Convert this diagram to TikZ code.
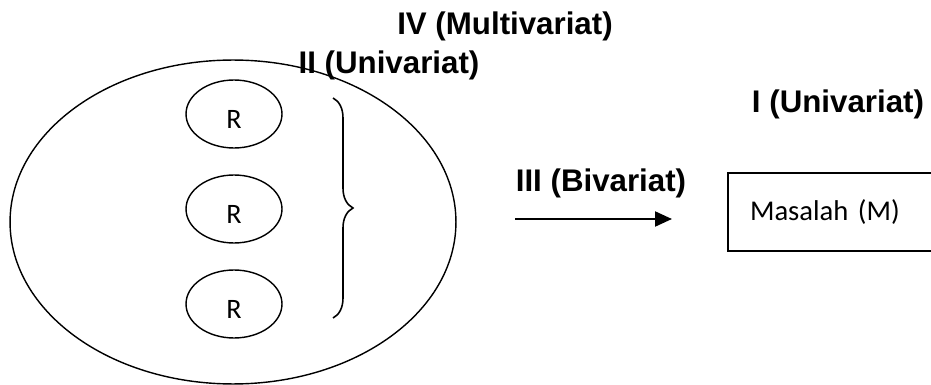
\documentclass[tikz,border=0pt]{standalone}
\usepackage{fontspec}
\setmainfont{Carlito}
\newfontfamily\headfont{Liberation Sans}
\usetikzlibrary{shapes.geometric,arrows.meta,decorations.pathreplacing}

\tikzset{
  ring/.style={draw, ellipse, line width=0.8pt, inner sep=0pt},
  rnode/.style={ring, minimum width=1.92cm, minimum height=1.36cm,
    font=\fontsize{16}{18}\selectfont, text height=0.58cm},
  level/.style={font=\headfont\bfseries\fontsize{17.8}{20}\selectfont,
    anchor=base, inner sep=0pt},
  problembox/.style={draw, line width=0.8pt, minimum width=4.64cm,
    minimum height=1.56cm, text width=3.76cm, align=left, inner xsep=0.44cm,
    font=\fontsize{16.3}{18}\selectfont}
}

\begin{document}
\begin{tikzpicture}[x=0.02cm, y=-0.02cm]
	%%%%% START %%%%%
	\useasboundingbox (0,0) rectangle (931,385);
	
	% group of R with the brace
	\node[ring, minimum width=8.92cm, minimum height=6.48cm] (group) at (233,222) {};
	\foreach \k/\yy in {1/114, 2/209, 3/304}
		\node[rnode] (r\k) at (234,\yy) {R};
	
	\coordinate (btop) at (333,98);
	\coordinate (bbot) at (333,318);
	\draw[line width=0.9pt, decorate, decoration={brace, amplitude=0.4cm}] (btop) -- (bbot);
	
	% arrow towards the problem
	\coordinate (from) at (515,219);
	\coordinate (to) at (672,219);
	\draw[line width=1.2pt, -{Triangle[length=0.34cm, width=0.3cm]}] (from) -- (to);
	
	\node[problembox] (masalah) at (844,212) {Masalah (M)};
	
	% levels of analysis
	\node[level] (iv) at (505,35) {IV (Multivariat)};
	\node[level] (ii) at (389,74) {II (Univariat)};
	\node[level] (i) at (838,113) {I (Univariat)};
	\node[level] (iii) at (601,192) {III (Bivariat)};
	
	%%%%% END %%%%%
\end{tikzpicture}
\end{document}
